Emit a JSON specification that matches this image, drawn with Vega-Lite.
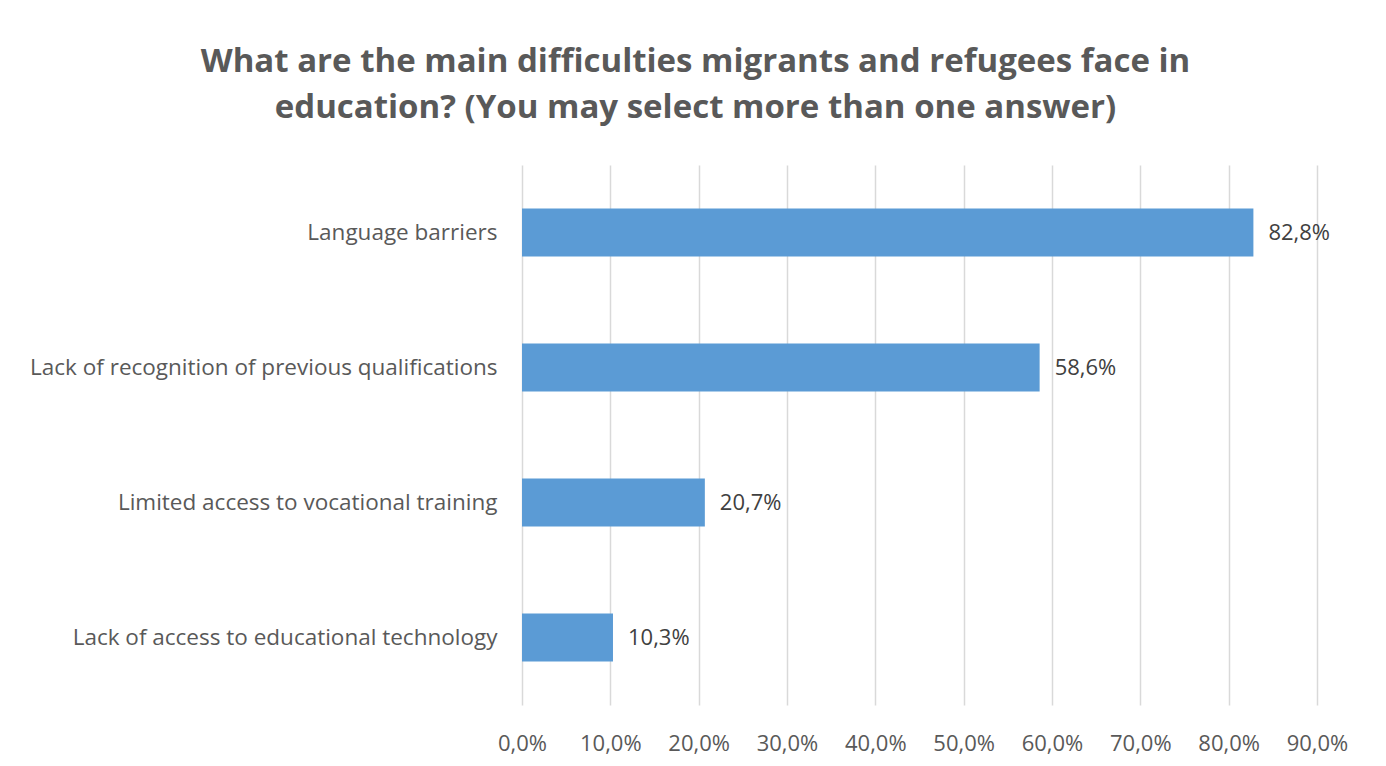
{
  "$schema": "https://vega.github.io/schema/vega-lite/v6.json",
  "autosize": {"type": "none"},
  "width": 795,
  "height": 540,
  "padding": {"left": 522, "top": 165, "right": 69, "bottom": 61},
  "background": "white",
  "title": {
    "text": ["What are the main difficulties migrants and refugees face in", "education? (You may select more than one answer)"],
    "font": "Open Sans",
    "fontSize": 33,
    "fontWeight": "bold",
    "color": "#595959",
    "anchor": "middle",
    "dx": -224,
    "offset": 40,
    "lineHeight": 46
  },
  "data": {
    "values": [
      {"category": "Language barriers", "value": 0.828},
      {"category": "Lack of recognition of previous qualifications", "value": 0.586},
      {"category": "Limited access to vocational training", "value": 0.207},
      {"category": "Lack of access to educational technology", "value": 0.103}
    ]
  },
  "encoding": {
    "y": {
      "field": "category",
      "type": "nominal",
      "sort": null,
      "scale": {"paddingInner": 0.645, "paddingOuter": 0.3225},
      "axis": {
        "title": null,
        "domain": false,
        "ticks": false,
        "labelPadding": 25,
        "labelFont": "Open Sans",
        "labelFontSize": 22.5,
        "labelColor": "#595959",
        "labelLimit": 700
      }
    },
    "x": {
      "field": "value",
      "type": "quantitative",
      "scale": {"domain": [0, 0.9], "nice": false},
      "axis": {
        "title": null,
        "values": [0, 0.1, 0.2, 0.3, 0.4, 0.5, 0.6, 0.7, 0.8, 0.9],
        "format": ".1%",
        "domain": false,
        "ticks": false,
        "grid": true,
        "gridColor": "#d9d9d9",
        "gridWidth": 1.5,
        "labelFlush": false,
        "labelOverlap": false,
        "labelPadding": 28,
        "labelFont": "Open Sans",
        "labelFontSize": 22,
        "labelColor": "#595959"
      }
    }
  },
  "layer": [
    {"mark": {"type": "bar", "color": "#5B9BD5"}},
    {
      "mark": {"type": "text", "align": "left", "baseline": "middle", "dx": 15, "font": "Open Sans", "fontSize": 22, "color": "#404040"},
      "encoding": {"text": {"field": "value", "type": "quantitative", "format": ".1%"}}
    }
  ],
  "config": {
    "view": {"stroke": null},
    "locale": {"number": {"decimal": ",", "thousands": ".", "grouping": [3], "currency": ["", " €"]}}
  }
}
